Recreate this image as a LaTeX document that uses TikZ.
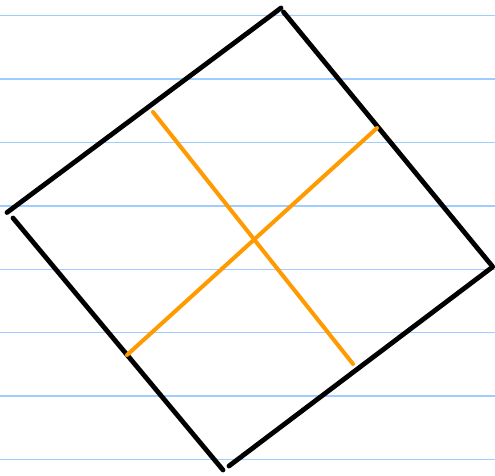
\documentclass[tikz,border=0pt]{standalone}
\begin{document}
\begin{tikzpicture}[x=1pt,y=-1pt,
  rule/.style={draw={rgb,255:red,160;green,205;blue,255},line width=1.5pt},
  edge/.style={draw=black,line width=4.8pt,line cap=round},
  cross/.style={draw={rgb,255:red,255;green,155;blue,0},line width=4pt,line cap=round}]
\useasboundingbox[fill=white] (0,0) rectangle (495,476);
\foreach \i in {0,...,7}{
  \coordinate (l\i) at (0,15.7+63.4*\i);
  \coordinate (r\i) at (495,15.7+63.4*\i);
  \draw[rule] (l\i) -- (r\i);
}
\coordinate (a1) at (7,212.5);
\coordinate (a2) at (281,8);
\coordinate (b1) at (283.5,12);
\coordinate (b2) at (492.5,266.5);
\coordinate (c1) at (492.5,267);
\coordinate (c2) at (229,466);
\coordinate (d1) at (223,470);
\coordinate (d2) at (13,218);
\draw[edge] (a1) -- (a2);
\draw[edge] (b1) -- (b2);
\draw[edge] (c1) -- (c2);
\draw[edge] (d1) -- (d2);
\coordinate (o1) at (153,112);
\coordinate (o2) at (353,364);
\coordinate (o3) at (127,355);
\coordinate (o4) at (377,128);
\draw[cross] (o1) -- (o2);
\draw[cross] (o3) -- (o4);
\end{tikzpicture}
\end{document}
